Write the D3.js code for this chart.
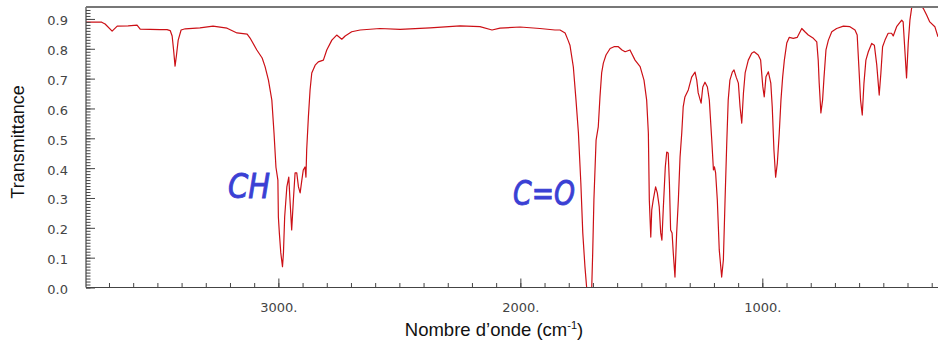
<!DOCTYPE html>
<html>
<head>
<meta charset="utf-8">
<script src="https://cdn.jsdelivr.net/npm/d3@7"></script>
<style>
  body { margin: 0; background: #fff; }
  svg { display: block; }
</style>
</head>
<body>
<div id="chart"></div>
<script>
// IR spectrum: wavenumber (cm-1) and transmittance
const wavenumber = [
  3795, 3730, 3716, 3687, 3666, 3621, 3584, 3571, 3489, 3460, 3447, 3439, 3433, 3427, 3421, 3414,
  3402, 3385, 3324, 3270, 3212, 3171, 3129, 3117, 3089, 3067, 3055, 3041, 3027, 3018, 3010, 3002,
  3000, 2996, 2990, 2983, 2979, 2974, 2965, 2957, 2952, 2945, 2938, 2931, 2924, 2917, 2910, 2903,
  2897, 2890, 2886, 2883, 2876, 2869, 2862, 2848, 2835, 2814, 2800, 2779, 2759, 2738, 2724, 2697,
  2662, 2580, 2497, 2373, 2249, 2167, 2117, 2084, 2001, 1919, 1857, 1836, 1815, 1803, 1795, 1781,
  1770, 1760, 1750, 1742, 1733, 1726, 1705, 1701, 1696, 1687, 1678, 1671, 1664, 1657, 1646, 1629,
  1613, 1595, 1580, 1567, 1547, 1526, 1505, 1489, 1478, 1471, 1467, 1461, 1457, 1451, 1441, 1434,
  1426, 1420, 1415, 1409, 1401, 1395, 1389, 1384, 1379, 1373, 1368, 1361, 1354, 1347, 1340, 1333,
  1327, 1320, 1306, 1292, 1278, 1271, 1265, 1253, 1246, 1237, 1227, 1219, 1209, 1202, 1198, 1193,
  1186, 1178, 1168, 1161, 1154, 1147, 1141, 1134, 1124, 1117, 1108, 1099, 1092, 1085, 1078, 1071,
  1058, 1044, 1034, 1017, 1007, 998, 992, 985, 975, 965, 959, 952, 945, 938, 930, 923,
  916, 909, 899, 889, 872, 856, 837, 824, 810, 789, 775, 769, 765, 758, 751, 745,
  737, 727, 713, 693, 665, 638, 617, 608, 601, 594, 587, 580, 572, 562, 548, 537,
  527, 521, 517, 510, 503, 493, 480, 466, 459, 445, 424, 418, 411, 404, 397, 390,
  383, 376, 349, 335, 321, 308, 287, 274
];
const transmittance = [
  0.889, 0.889, 0.883, 0.859, 0.876, 0.877, 0.879, 0.866, 0.864, 0.864, 0.861, 0.843, 0.796, 0.742, 0.779, 0.829,
  0.863, 0.867, 0.870, 0.876, 0.869, 0.853, 0.849, 0.836, 0.796, 0.769, 0.740, 0.695, 0.628, 0.518, 0.403, 0.360,
  0.236, 0.183, 0.116, 0.070, 0.116, 0.236, 0.337, 0.370, 0.293, 0.193, 0.293, 0.384, 0.384, 0.337, 0.317, 0.360,
  0.394, 0.404, 0.370, 0.461, 0.571, 0.662, 0.719, 0.745, 0.756, 0.762, 0.796, 0.829, 0.846, 0.832, 0.843, 0.857,
  0.863, 0.868, 0.865, 0.870, 0.877, 0.874, 0.863, 0.869, 0.873, 0.868, 0.863, 0.863, 0.853, 0.829, 0.812, 0.739,
  0.628, 0.518, 0.350, 0.183, 0.069, 0.000, 0.000, 0.116, 0.293, 0.494, 0.538, 0.638, 0.719, 0.752, 0.779, 0.801,
  0.807, 0.807, 0.796, 0.790, 0.796, 0.762, 0.740, 0.695, 0.628, 0.518, 0.293, 0.169, 0.260, 0.293, 0.337, 0.317,
  0.270, 0.183, 0.159, 0.270, 0.404, 0.454, 0.451, 0.350, 0.193, 0.183, 0.116, 0.035, 0.183, 0.293, 0.437, 0.518,
  0.605, 0.638, 0.662, 0.705, 0.722, 0.695, 0.652, 0.618, 0.672, 0.688, 0.672, 0.628, 0.494, 0.394, 0.404, 0.384,
  0.293, 0.126, 0.035, 0.092, 0.293, 0.484, 0.628, 0.695, 0.722, 0.729, 0.705, 0.685, 0.605, 0.551, 0.652, 0.719,
  0.762, 0.785, 0.790, 0.779, 0.762, 0.673, 0.639, 0.706, 0.723, 0.685, 0.605, 0.461, 0.370, 0.417, 0.518, 0.628,
  0.705, 0.762, 0.819, 0.838, 0.835, 0.838, 0.868, 0.857, 0.846, 0.835, 0.823, 0.762, 0.685, 0.585, 0.628, 0.705,
  0.796, 0.829, 0.857, 0.868, 0.876, 0.874, 0.863, 0.846, 0.739, 0.628, 0.578, 0.685, 0.762, 0.790, 0.818, 0.812,
  0.745, 0.685, 0.645, 0.719, 0.807, 0.829, 0.852, 0.852, 0.843, 0.874, 0.896, 0.890, 0.796, 0.702, 0.819, 0.896,
  0.936, 0.945, 0.945, 0.936, 0.913, 0.890, 0.874, 0.840
];

const xMajorTicks = [3000, 2000, 1000];
const xMinorTicks = d3.range(300, 3800, 100);
const yMajorTicks = [0, 0.1, 0.2, 0.3, 0.4, 0.5, 0.6, 0.7, 0.8, 0.9];
const yMinorTicks = d3.range(0, 95).map(i => i / 100);

const annotations = ['CH', 'C=O'];
const annotationWn = [3208, 2030];
const annotationT = [0.30, 0.276];

const width = 938, height = 345;
const plotLeft = 86, plotRight = 938, plotTop = 7, plotBottom = 287.5;

const svg = d3.select('#chart').append('svg')
  .attr('width', width)
  .attr('height', height);

const x = d3.scaleLinear().domain([3795, 274]).range([plotLeft, plotRight]);
const y = d3.scaleLinear().domain([0, 0.94]).range([plotBottom, plotTop]);

const tickFont = '"DejaVu Sans", Verdana, sans-serif';
const labelFont = '"Liberation Sans", Arial, sans-serif';

// clip so the spectrum stays inside the frame
svg.append('clipPath').attr('id', 'plot-clip')
  .append('rect')
  .attr('x', plotLeft).attr('y', plotTop)
  .attr('width', plotRight - plotLeft).attr('height', plotBottom - plotTop);

// spectrum
const points = wavenumber.map((w, i) => [w, transmittance[i]]);
const line = d3.line()
  .x(d => x(d[0]))
  .y(d => y(d[1]));

svg.append('path')
  .datum(points)
  .attr('clip-path', 'url(#plot-clip)')
  .attr('d', line)
  .attr('fill', 'none')
  .attr('stroke', '#cc1016')
  .attr('stroke-width', 1.2)
  .attr('stroke-linejoin', 'round');

// y axis (ticks drawn inward)
const yMinor = svg.append('g')
  .attr('transform', `translate(${plotLeft},0)`)
  .call(d3.axisLeft(y).tickValues(yMinorTicks).tickSize(-4.5).tickFormat(''));
yMinor.select('.domain').remove();

const yMajor = svg.append('g')
  .attr('transform', `translate(${plotLeft},0)`)
  .call(d3.axisLeft(y).tickValues(yMajorTicks).tickSize(-9).tickPadding(18).tickFormat(d3.format('.1f')));
yMajor.select('.domain').remove();
yMajor.selectAll('text')
  .attr('dy', '0.46em')
  .style('font-family', tickFont)
  .style('font-size', '13px')
  .attr('fill', '#444');

// x axis
const xMinor = svg.append('g')
  .attr('transform', `translate(0,${plotBottom})`)
  .call(d3.axisBottom(x).tickValues(xMinorTicks).tickSize(-4.5).tickFormat(''));
xMinor.select('.domain').remove();

const xMajor = svg.append('g')
  .attr('transform', `translate(0,${plotBottom})`)
  .call(d3.axisBottom(x).tickValues(xMajorTicks).tickSize(-9).tickPadding(15).tickFormat(d => d + '.'));
xMajor.select('.domain').remove();
xMajor.selectAll('text')
  .style('font-family', tickFont)
  .style('font-size', '13px')
  .attr('fill', '#444');

svg.selectAll('.tick line').attr('stroke', '#444').attr('stroke-width', 1);

// frame lines
svg.append('line')
  .attr('x1', plotLeft).attr('x2', plotLeft).attr('y1', plotTop).attr('y2', plotBottom)
  .attr('stroke', '#444').attr('stroke-width', 1.2);
svg.append('line')
  .attr('x1', plotLeft).attr('x2', plotRight).attr('y1', plotBottom).attr('y2', plotBottom)
  .attr('stroke', '#444').attr('stroke-width', 1.2);
svg.append('line')
  .attr('x1', plotLeft).attr('x2', plotRight).attr('y1', plotTop).attr('y2', plotTop)
  .attr('stroke', '#777').attr('stroke-width', 2);

// axis titles
const xTitle = svg.append('text')
  .attr('x', 494)
  .attr('y', 336)
  .attr('text-anchor', 'middle')
  .style('font-family', labelFont)
  .style('font-size', '18.5px')
  .attr('fill', '#111');
xTitle.append('tspan').text('Nombre d\u2019onde (cm');
xTitle.append('tspan').attr('dy', -7).style('font-size', '11px').text('-1');
xTitle.append('tspan').attr('dy', 7).text(')');

svg.append('text')
  .attr('transform', 'translate(24,142) rotate(-90)')
  .attr('text-anchor', 'middle')
  .style('font-family', labelFont)
  .style('font-size', '18px')
  .attr('fill', '#111')
  .text('Transmittance');

// hand-written style annotations
annotations.forEach((label, i) => {
  svg.append('text')
    .attr('x', x(annotationWn[i]))
    .attr('y', y(annotationT[i]))
    .attr('textLength', label === 'CH' ? 42 : 62)
    .attr('lengthAdjust', 'spacingAndGlyphs')
    .style('font-family', '"Comic Sans MS", "DejaVu Sans", sans-serif')
    .style('font-style', 'italic')
    .style('font-size', '33px')
    .attr('fill', '#3a40d4')
    .attr('stroke', '#3a40d4')
    .attr('stroke-width', 0.9)
    .text(label);
});
</script>
</body>
</html>
